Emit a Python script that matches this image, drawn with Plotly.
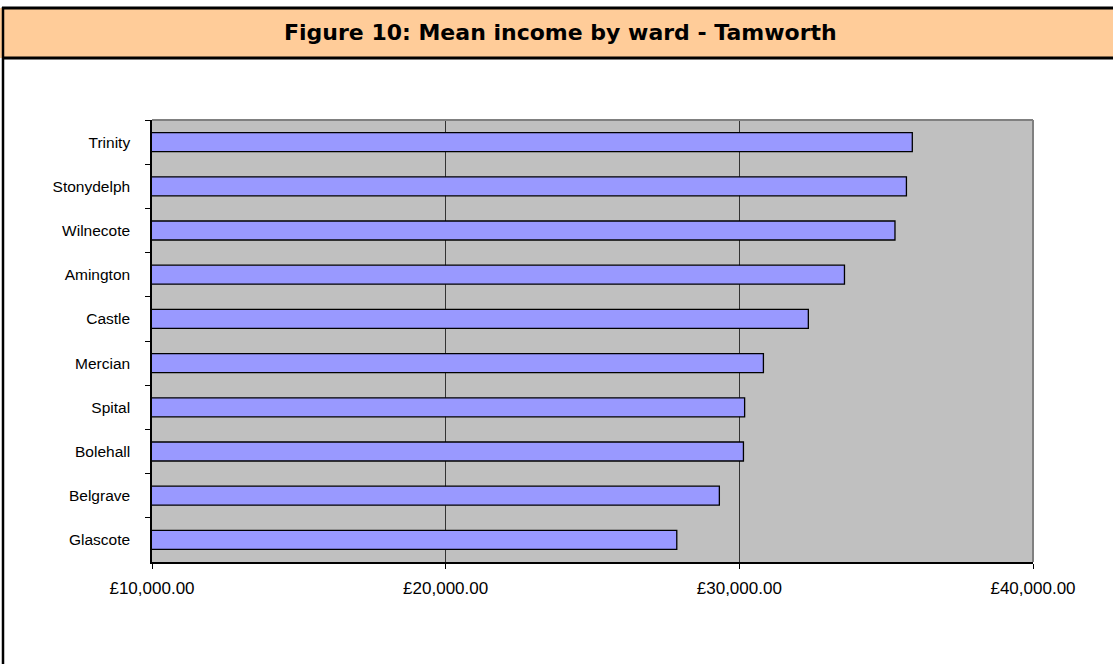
import plotly.graph_objects as go

W, H = 1113, 664

# Ward names (top to bottom) and mean income in GBP
wards = ["Trinity", "Stonydelph", "Wilnecote", "Amington", "Castle",
         "Mercian", "Spital", "Bolehall", "Belgrave", "Glascote"]
mean_income = [35890, 35690, 35300, 33580, 32350,
               30820, 30180, 30140, 29320, 27870]

x_ticks = [10000, 20000, 30000, 40000]
x_tick_labels = ["£10,000.00", "£20,000.00", "£30,000.00", "£40,000.00"]
title_text = "Figure 10: Mean income by ward - Tamworth"


def px_x(v):
    return v / W


def px_y(v):
    return 1 - v / H


fig = go.Figure()
fig.add_trace(go.Bar(
    x=mean_income,
    y=wards,
    orientation="h",
    width=0.43,
    marker=dict(color="#9999FF", line=dict(color="#000000", width=1.3)),
    hoverinfo="x+y",
))

plot_left, plot_right = 152, 1033
plot_top, plot_bottom = 120, 562

shapes = [
    # header band
    dict(type="rect", xref="paper", yref="paper",
         x0=0, x1=1, y0=px_y(58), y1=px_y(8),
         fillcolor="#FFCC99", line=dict(width=0, color="rgba(0,0,0,0)"), layer="below"),
    dict(type="line", xref="paper", yref="paper",
         x0=px_x(2), x1=1, y0=px_y(8), y1=px_y(8),
         line=dict(color="#000000", width=3)),
    dict(type="line", xref="paper", yref="paper",
         x0=px_x(2), x1=1, y0=px_y(58), y1=px_y(58),
         line=dict(color="#000000", width=3)),
    dict(type="line", xref="paper", yref="paper",
         x0=px_x(3), x1=px_x(3), y0=0, y1=px_y(7),
         line=dict(color="#000000", width=2.5)),
    # plot-area frame (top and right edges)
    dict(type="line", xref="x domain", yref="y domain",
         x0=0, x1=1, y0=1, y1=1,
         line=dict(color="#808080", width=2)),
    dict(type="line", xref="x domain", yref="y domain",
         x0=1, x1=1, y0=0, y1=1,
         line=dict(color="#808080", width=2)),
]

fig.update_layout(
    width=W, height=H,
    autosize=False,
    margin=dict(l=0, r=0, t=0, b=0, pad=0),
    paper_bgcolor="#FFFFFF",
    plot_bgcolor="#C0C0C0",
    showlegend=False,
    shapes=shapes,
    font=dict(family="Liberation Sans, Arial, sans-serif", size=15.5, color="#000000"),
    annotations=[dict(
        text="<b>" + title_text + "</b>",
        xref="paper", yref="paper",
        x=px_x(560), y=px_y(33),
        xanchor="center", yanchor="middle",
        showarrow=False,
        font=dict(family="DejaVu Sans, Verdana, sans-serif", size=22, color="#000000"),
    )],
    xaxis=dict(
        domain=[px_x(plot_left), px_x(plot_right)],
        range=[10000, 40000],
        tickvals=x_ticks,
        ticktext=x_tick_labels,
        tickfont=dict(size=17),
        ticks="outside", ticklen=5, tickcolor="#000000", tickwidth=1,
        showgrid=True, gridcolor="#333333", gridwidth=1,
        showline=True, linecolor="#000000", linewidth=1.5,
        zeroline=False,
        automargin=False,
        ticklabelstandoff=5,
        fixedrange=True,
    ),
    yaxis=dict(
        domain=[px_y(plot_bottom), px_y(plot_top)],
        type="category",
        categoryorder="array", categoryarray=wards,
        autorange="reversed",
        tickson="boundaries",
        ticks="outside", ticklen=5, tickcolor="#000000", tickwidth=1,
        showgrid=False,
        showline=True, linecolor="#000000", linewidth=1.5,
        zeroline=False,
        automargin=False,
        ticklabelstandoff=17,
        fixedrange=True,
    ),
    bargap=0.57,
)

fig.write_html("out.html")
